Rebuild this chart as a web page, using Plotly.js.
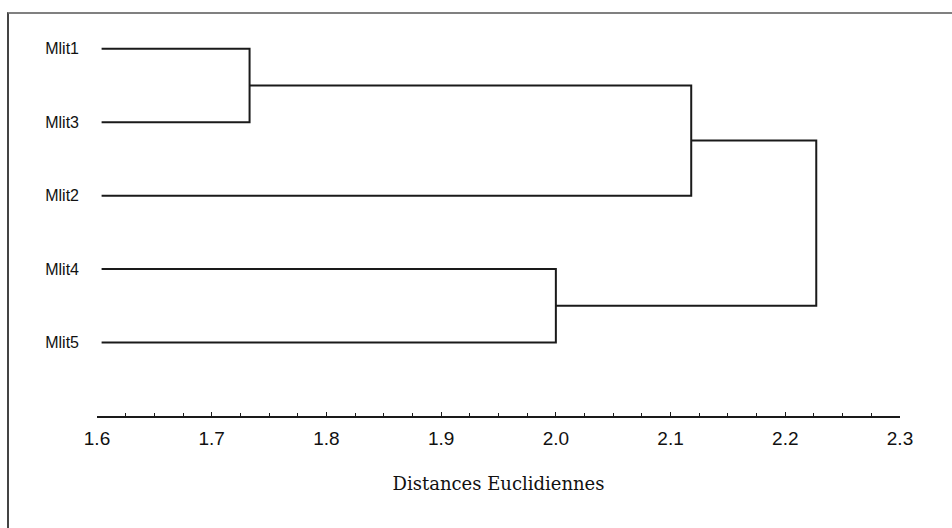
<!DOCTYPE html>
<html>
<head>
<meta charset="utf-8">
<script src="https://cdn.plot.ly/plotly-3.0.1.min.js"></script>
<style>
  html, body { margin: 0; padding: 0; background: #fff; }
  #wrap { position: relative; width: 952px; height: 528px; overflow: hidden; }
  #frame { position: absolute; left: 7px; top: 12px; width: 960px; height: 530px;
           border-top: 2px solid #808080; border-left: 2px solid #444; box-sizing: border-box; pointer-events: none; }
  #chart { position: absolute; left: 0; top: 0; width: 952px; height: 528px; }
</style>
</head>
<body>
<div id="wrap">
  <div id="chart"></div>
  <div id="frame"></div>
</div>
<script>
// Leaf labels, top to bottom
const leafLabels = ['Mlit1', 'Mlit3', 'Mlit2', 'Mlit4', 'Mlit5'];
// Merges: [childA, childB, distance]; indices >= 5 refer to earlier merges (5 + merge index)
const mergeA = [0, 5, 3, 6];
const mergeB = [1, 2, 4, 7];
const mergeDist = [1.733, 2.118, 2.000, 2.227];
// Distance at which leaf lines start
const leafStart = 1.604;
// Axis ticks
const xTickVals = [1.6, 1.7, 1.8, 1.9, 2.0, 2.1, 2.2, 2.3];
const xTickText = ['1.6', '1.7', '1.8', '1.9', '2.0', '2.1', '2.2', '2.3'];
const xTitle = 'Distances Euclidiennes';

const n = leafLabels.length;
const nodeX = [], nodeY = [];
for (let i = 0; i < n; i++) { nodeX.push(leafStart); nodeY.push(i); }
const xs = [], ys = [];
for (let k = 0; k < mergeDist.length; k++) {
  const a = mergeA[k], b = mergeB[k], h = mergeDist[k];
  xs.push(nodeX[a], h, h, nodeX[b], null);
  ys.push(nodeY[a], nodeY[a], nodeY[b], nodeY[b], null);
  nodeX.push(h);
  nodeY.push((nodeY[a] + nodeY[b]) / 2);
}

const trace = {
  type: 'scatter', mode: 'lines', x: xs, y: ys,
  line: { color: '#1a1a1a', width: 2, shape: 'linear' },
  hoverinfo: 'skip', showlegend: false, cliponaxis: false
};

const layout = {
  width: 952, height: 528,
  margin: { l: 97, r: 52, t: 12, b: 112, pad: 0 },
  paper_bgcolor: 'rgba(0,0,0,0)', plot_bgcolor: 'rgba(0,0,0,0)',
  showlegend: false,
  xaxis: {
    range: [1.6, 2.3], automargin: false,
    tickmode: 'array', tickvals: xTickVals, ticktext: xTickText,
    ticks: 'inside', ticklen: 4, tickwidth: 1, tickcolor: '#1a1a1a',
    minor: { dtick: 0.025, tick0: 1.6, ticks: 'inside', ticklen: 3, tickcolor: '#1a1a1a', showgrid: false },
    showline: true, linecolor: '#1a1a1a', linewidth: 2,
    showgrid: false, zeroline: false,
    tickfont: { family: 'Liberation Sans, Arial, sans-serif', size: 19, color: '#111' },
    ticklabelstandoff: 4,
    title: { text: xTitle, standoff: 30,
             font: { family: 'DejaVu Serif, serif', size: 18, color: '#111' } }
  },
  yaxis: {
    range: [5, -0.5], automargin: false,
    tickmode: 'array', tickvals: leafLabels.map((_, i) => i), ticktext: leafLabels,
    ticks: '', showline: false, showgrid: false, zeroline: false,
    tickfont: { family: 'Liberation Sans, Arial, sans-serif', size: 16, color: '#111' },
    ticklabelstandoff: 17
  }
};

Plotly.newPlot('chart', [trace], layout, { displayModeBar: false, staticPlot: true });
</script>
</body>
</html>
